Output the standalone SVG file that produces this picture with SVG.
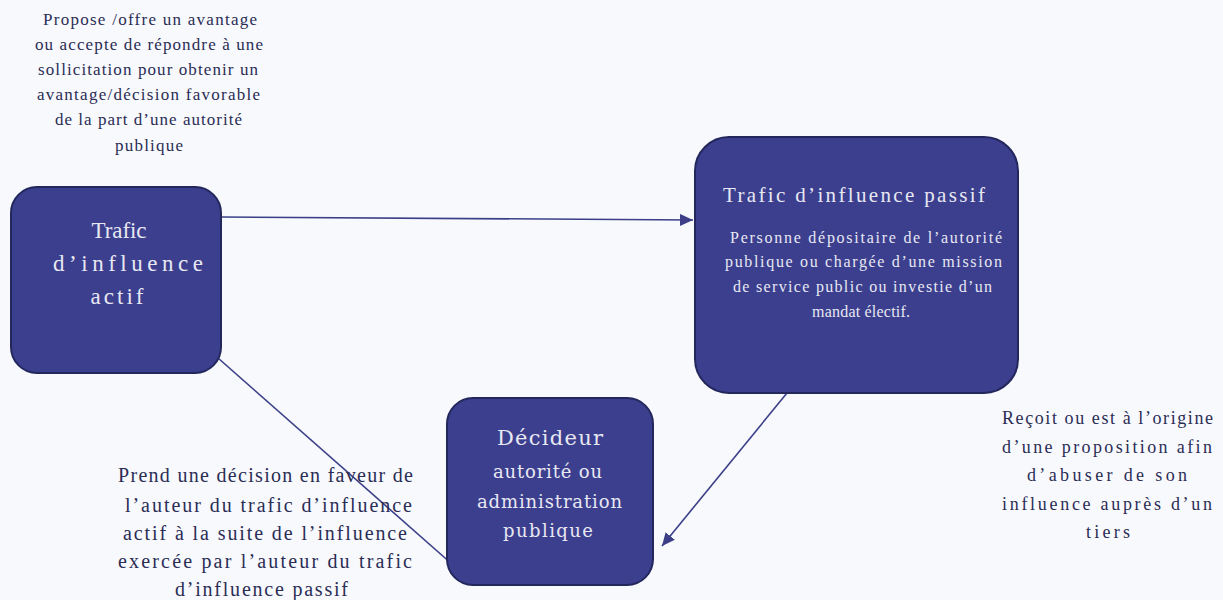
<svg xmlns="http://www.w3.org/2000/svg" width="1223" height="600" viewBox="0 0 1223 600">
<style>
.box{fill:#3b3f8e;stroke:#23275c;stroke-width:2}
.in{font-family:"Liberation Serif","DejaVu Serif",serif;fill:#e8e8f3;text-anchor:middle}
.in2{font-family:"DejaVu Serif","Liberation Serif",serif;fill:#e8e8f3;text-anchor:middle}
.out{font-family:"Liberation Serif","DejaVu Serif",serif;fill:#2b2d55;text-anchor:middle}
.conn{stroke:#3c3f87;stroke-width:1.6;fill:none}
</style>
<defs>
<marker id="ah" markerUnits="userSpaceOnUse" markerWidth="14" markerHeight="12" refX="13" refY="6" orient="auto">
<path d="M0,0 L13,6 L0,12 z" fill="#3c3f87"/>
</marker>
</defs>
<rect width="1223" height="600" fill="#f7f9fd"/>

<g id="label-top" class="out" font-size="17">
<text x="150" y="25" textLength="214" lengthAdjust="spacing">Propose /offre un avantage</text>
<text x="149" y="50" textLength="228" lengthAdjust="spacing">ou accepte de répondre à une</text>
<text x="148" y="75" textLength="220" lengthAdjust="spacing">sollicitation pour obtenir un</text>
<text x="148.5" y="100" textLength="223" lengthAdjust="spacing">avantage/décision favorable</text>
<text x="148.5" y="125" textLength="187" lengthAdjust="spacing">de la part d’une autorité</text>
<text x="149" y="151" textLength="68" lengthAdjust="spacing">publique</text>
</g>

<g id="connectors">
<line class="conn" x1="222" y1="217" x2="693" y2="220" marker-end="url(#ah)"/>
<line class="conn" x1="787" y1="393" x2="662" y2="546" marker-end="url(#ah)"/>
<line class="conn" x1="218" y1="358" x2="453" y2="565"/>
</g>

<g id="node-actif">
<rect class="box" x="11" y="187" width="210" height="186" rx="26"/>
<g class="in" font-size="23">
<text x="119" y="238" textLength="55" lengthAdjust="spacing">Trafic</text>
<text x="128" y="271" textLength="150" lengthAdjust="spacing">d’influence</text>
<text x="117" y="304" textLength="53" lengthAdjust="spacing">actif</text>
</g>
</g>

<g id="node-passif">
<rect class="box" x="695" y="137" width="323" height="256" rx="34"/>
<g class="in">
<text x="854" y="202" font-size="21" textLength="262" lengthAdjust="spacing">Trafic d’influence passif</text>
<g font-size="16">
<text x="866" y="243" textLength="272" lengthAdjust="spacing">Personne dépositaire de l’autorité</text>
<text x="863.5" y="267" textLength="277" lengthAdjust="spacing">publique ou chargée d’une mission</text>
<text x="862.5" y="292" textLength="259" lengthAdjust="spacing">de service public ou investie d’un</text>
<text x="861" y="317" textLength="98" lengthAdjust="spacing">mandat électif.</text>
</g>
</g>
</g>

<g id="node-decideur">
<rect class="box" x="447" y="398" width="206" height="187" rx="26"/>
<g class="in2">
<text x="550" y="445" font-size="21" textLength="106" lengthAdjust="spacing">Décideur</text>
<g font-size="18">
<text x="547.5" y="478" textLength="109" lengthAdjust="spacing">autorité ou</text>
<text x="549.5" y="508" textLength="145" lengthAdjust="spacing">administration</text>
<text x="548" y="537" textLength="90" lengthAdjust="spacing">publique</text>
</g>
</g>
</g>

<g id="label-bottom-left" class="out" font-size="20">
<text x="265.5" y="482" textLength="295" lengthAdjust="spacing">Prend une décision en faveur de</text>
<text x="268.5" y="512" textLength="287" lengthAdjust="spacing">l’auteur du trafic d’influence</text>
<text x="265" y="540" textLength="284" lengthAdjust="spacing">actif à la suite de l’influence</text>
<text x="265" y="568" textLength="294" lengthAdjust="spacing">exercée par l’auteur du trafic</text>
<text x="261.5" y="596" textLength="173" lengthAdjust="spacing">d’influence passif</text>
</g>

<g id="label-right" class="out" font-size="18">
<text x="1107.5" y="424" textLength="211" lengthAdjust="spacing">Reçoit ou est à l’origine</text>
<text x="1107" y="453" textLength="210" lengthAdjust="spacing">d’une proposition afin</text>
<text x="1107" y="481" textLength="160" lengthAdjust="spacing">d’abuser de son</text>
<text x="1107" y="510" textLength="210" lengthAdjust="spacing">influence auprès d’un</text>
<text x="1108" y="538" textLength="44" lengthAdjust="spacing">tiers</text>
</g>
</svg>
